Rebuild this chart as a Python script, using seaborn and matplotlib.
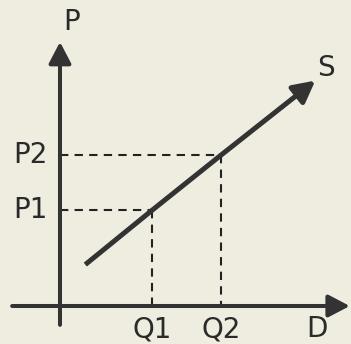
import matplotlib
matplotlib.use("Agg")
import matplotlib.pyplot as plt
import seaborn as sns

# supply curve (quantity, price), in axis units
supply_q = [0.55, 2.0, 3.5]
supply_p = [0.9, 2.08, 3.28]
supply_tip = (5.55, 4.9)

# marked equilibrium points
q_marks = [2.0, 3.5]
p_marks = [2.08, 3.28]
q_labels = ["Q1", "Q2"]
p_labels = ["P1", "P2"]

paper = "#eeede0"
ink = "#333333"

sns.set_theme(style="white")
plt.rcParams["font.family"] = ["DejaVu Sans"]

fig = plt.figure(figsize=(3.51, 3.44), dpi=100, facecolor=paper)
ax = fig.add_axes([0, 0, 1, 1])
ax.set_facecolor(paper)
ax.set_xlim(-1.304, 6.326)
ax.set_ylim(-0.826, 6.652)
ax.set_axis_off()

# axes with arrow heads
head = "-|>,head_length=0.65,head_width=0.34"
ax.annotate("", xy=(0, 5.74), xytext=(0, -0.41),
            arrowprops=dict(arrowstyle=head, color=ink, lw=2.9,
                            mutation_scale=20, shrinkA=0, shrinkB=0))
ax.annotate("", xy=(6.3, 0), xytext=(-1.04, 0),
            arrowprops=dict(arrowstyle=head, color=ink, lw=2.9,
                            mutation_scale=20, shrinkA=0, shrinkB=0))

# dashed guides
for q, p in zip(q_marks, p_marks):
    sns.lineplot(x=[0, q], y=[p, p], ax=ax, color="#222222", lw=1.5,
                 linestyle=(0, (4, 3)), sort=False, estimator=None)
    sns.lineplot(x=[q, q], y=[p, 0], ax=ax, color="#222222", lw=1.5,
                 linestyle=(0, (4, 3)), sort=False, estimator=None)

# supply line
sns.lineplot(x=supply_q, y=supply_p, ax=ax, color=ink, lw=3.6, sort=False,
             estimator=None, solid_capstyle="butt")
ax.annotate("", xy=supply_tip, xytext=(supply_q[-1], supply_p[-1]),
            arrowprops=dict(arrowstyle=head, color=ink, lw=3.6,
                            mutation_scale=20, shrinkA=0, shrinkB=0))

fs = 20
for q, lab in zip(q_marks, q_labels):
    ax.text(q, -0.5, lab, ha="center", va="center", fontsize=fs, color="#2a2a2a")
for p, lab in zip(p_marks, p_labels):
    ax.text(-0.64, p, lab, ha="center", va="center", fontsize=fs, color="#2a2a2a")
ax.text(0.26, 6.17, "P", ha="center", va="center", fontsize=fs, color="#2a2a2a")
ax.text(5.59, -0.5, "D", ha="center", va="center", fontsize=fs, color="#2a2a2a")
ax.text(5.78, 5.17, "S", ha="center", va="center", fontsize=fs, color="#2a2a2a")

fig.savefig("out.png", dpi=100, facecolor=paper)
